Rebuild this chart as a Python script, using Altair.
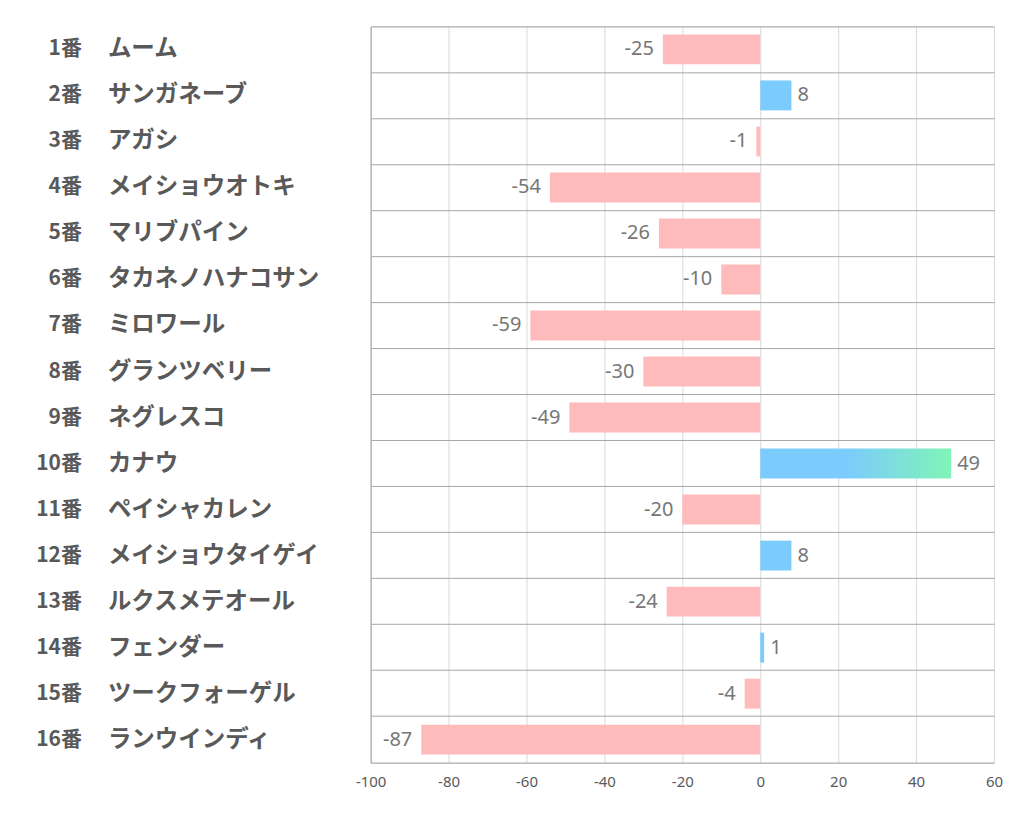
import altair as alt
import pandas as pd

nums = ["1番", "2番", "3番", "4番", "5番", "6番", "7番", "8番", "9番", "10番",
        "11番", "12番", "13番", "14番", "15番", "16番"]
names = ["ムーム", "サンガネーブ", "アガシ", "メイショウオトキ", "マリブパイン",
         "タカネノハナコサン", "ミロワール", "グランツベリー", "ネグレスコ", "カナウ",
         "ペイシャカレン", "メイショウタイゲイ", "ルクスメテオール", "フェンダー",
         "ツークフォーゲル", "ランウインディ"]
values = [-25, 8, -1, -54, -26, -10, -59, -30, -49, 49, -20, 8, -24, 1, -4, -87]
highlight = [False] * 9 + [True] + [False] * 6
x_ticks = [-100, -80, -60, -40, -20, 0, 20, 40, 60]

df = pd.DataFrame({"num": nums, "name": names, "value": values, "hl": highlight})
df["row"] = list(range(len(nums)))
df["label"] = [str(v) for v in values]

PINK = "#ffbbbb"
BLUE = "#7ccbfd"
GREEN = "#7ff5b6"
LABEL = "#595959"
VAL = "#767676"

yenc = alt.Y("row:O", scale=alt.Scale(paddingInner=0, paddingOuter=0),
             axis=alt.Axis(labels=False, ticks=False, domain=True, domainColor="#a6a6a6",
                           grid=True, gridColor="#a6a6a6", bandPosition=0, title=None))
xscale = alt.Scale(domain=[-100, 60], nice=False, zero=False)
xenc = alt.X("value:Q", scale=xscale,
             axis=alt.Axis(values=x_ticks, grid=True, gridColor="#d9d9d9", ticks=False,
                           domain=True, domainColor="#a6a6a6", labelFontSize=15,
                           labelColor=LABEL, labelFont="Noto Sans", labelPadding=12,
                           labelFlush=False,
                           labelExpr="replace(datum.label, '−', '-')",
                           title=None))

base = alt.Chart(df)

bars = base.transform_filter("!datum.hl").mark_bar(
    height=alt.RelativeBandSize(0.65)
).encode(
    x=xenc, x2=alt.datum(0), y=yenc,
    color=alt.condition("datum.value < 0", alt.value(PINK), alt.value(BLUE)),
)

grad_bar = base.transform_filter("datum.hl").mark_bar(
    height=alt.RelativeBandSize(0.65),
    color=alt.Gradient(gradient="linear", x1=0, x2=1, y1=0, y2=0,
                       stops=[alt.GradientStop(offset=0, color=BLUE),
                              alt.GradientStop(offset=0.45, color=BLUE),
                              alt.GradientStop(offset=1, color=GREEN)]),
).encode(x=alt.X("value:Q", scale=xscale), x2=alt.datum(0), y=alt.Y("row:O"))

neg_lbl = base.transform_filter("datum.value < 0").mark_text(
    align="right", baseline="middle", dx=-9, fontSize=20, color=VAL, font="Noto Sans"
).encode(x=alt.X("value:Q", scale=xscale), y=alt.Y("row:O"), text="label:N")

pos_lbl = base.transform_filter("datum.value >= 0").mark_text(
    align="left", baseline="middle", dx=6, fontSize=20, color=VAL, font="Noto Sans"
).encode(x=alt.X("value:Q", scale=xscale), y=alt.Y("row:O"), text="label:N")

num_lbl = base.mark_text(
    align="right", baseline="middle", fontSize=21, fontWeight="bold", color=LABEL,
    font="Noto Sans CJK JP"
).encode(x=alt.value(-289), y=alt.Y("row:O"), text="num:N")

name_lbl = base.mark_text(
    align="left", baseline="middle", fontSize=23.5, fontWeight="bold", color=LABEL,
    font="Noto Sans CJK JP"
).encode(x=alt.value(-263), y=alt.Y("row:O"), text="name:N")

chart = alt.layer(bars, grad_bar, neg_lbl, pos_lbl, num_lbl, name_lbl).properties(
    width=624, height=737,
    autosize=alt.AutoSizeParams(type="none"),
    padding={"left": 363, "top": 18, "right": 20, "bottom": 60},
).configure_view(stroke=None).configure(background="white")

chart.save("out.html", embed_options={"renderer": "svg", "actions": False})
